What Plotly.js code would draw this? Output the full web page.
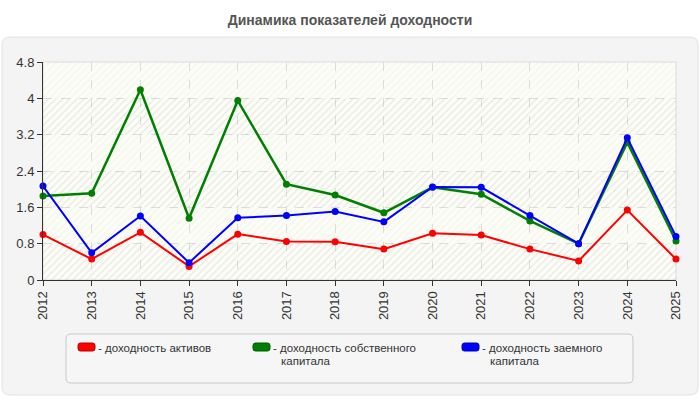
<!DOCTYPE html>
<html>
<head>
<meta charset="utf-8">
<script src="https://cdn.plot.ly/plotly-3.0.1.min.js"></script>
<style>
  html, body { margin: 0; padding: 0; background: #ffffff; }
  #chart { width: 700px; height: 400px; }
</style>
</head>
<body>
<div id="chart"></div>
<script>
// Годы и показатели доходности
const years = [2012, 2013, 2014, 2015, 2016, 2017, 2018, 2019, 2020, 2021, 2022, 2023, 2024, 2025];
const assetsReturn = [1.00, 0.46, 1.05, 0.30, 1.01, 0.85, 0.84, 0.68, 1.03, 0.99, 0.68, 0.42, 1.54, 0.46];
const equityReturn = [1.85, 1.91, 4.19, 1.36, 3.95, 2.11, 1.87, 1.48, 2.04, 1.89, 1.30, 0.80, 3.03, 0.86];
const debtReturn   = [2.07, 0.60, 1.41, 0.38, 1.37, 1.42, 1.51, 1.28, 2.05, 2.04, 1.42, 0.80, 3.13, 0.96];

// Подписи легенды построчно
const seriesNames = [
  ['доходность активов'],
  ['доходность собственного', 'капитала'],
  ['доходность заемного', 'капитала']
];
const seriesColors = ['#ff0000', '#008000', '#0000ff'];
const seriesBorders = ['#b30000', '#005a00', '#0000b3'];
const yTicks = [0, 0.8, 1.6, 2.4, 3.2, 4, 4.8];
const titleText = 'Динамика показателей доходности';

// Геометрия области построения в пикселях
const W = 700, H = 400;
const plotL = 43, plotR = 676, plotT = 62, plotB = 280;
const px = x => (x - plotL) / (plotR - plotL);
const py = y => (plotB - y) / (plotB - plotT);

// Скругленный прямоугольник в координатах paper
function roundRect(x0, y0, x1, y1, r) {
  const rx = r / (plotR - plotL), ry = r / (plotB - plotT);
  const L = px(x0), R = px(x1), T = py(y0), B = py(y1);
  return `M${L + rx},${T} L${R - rx},${T} Q${R},${T} ${R},${T - ry} L${R},${B + ry} Q${R},${B} ${R - rx},${B} ` +
         `L${L + rx},${B} Q${L},${B} ${L},${B + ry} L${L},${T - ry} Q${L},${T} ${L + rx},${T} Z`;
}

const traces = [];

// Полосы фона со штриховкой между линиями сетки
for (let i = 0; i < yTicks.length - 1; i++) {
  const dark = i % 2 === 0;
  const y0 = yTicks[i], y1 = yTicks[i + 1];
  const x0 = years[0], x1 = years[years.length - 1];
  traces.push({
    x: [x0, x1, x1, x0, x0],
    y: [y0, y0, y1, y1, y0],
    mode: 'none',
    fill: 'toself',
    fillcolor: dark ? 'rgba(120,120,110,0.07)' : 'rgba(0,0,0,0)',
    fillpattern: {
      shape: '/',
      size: 5,
      solidity: 0.25,
      fgcolor: dark ? 'rgba(150,150,150,0.2)' : 'rgba(200,200,180,0.16)',
      bgcolor: 'rgba(0,0,0,0)'
    },
    hoverinfo: 'skip',
    showlegend: false
  });
}

const series = [assetsReturn, equityReturn, debtReturn];
const widths = [2, 2.5, 2];
series.forEach((vals, i) => {
  traces.push({
    x: years,
    y: vals,
    name: seriesNames[i].join(' '),
    type: 'scatter',
    mode: 'lines+markers',
    line: { color: seriesColors[i], width: widths[i] },
    marker: { color: seriesColors[i], size: 7 },
    cliponaxis: false,
    showlegend: false
  });
});

const shapes = [
  // Серая подложка диаграммы
  {
    type: 'path', xref: 'paper', yref: 'paper', layer: 'below',
    path: roundRect(2, 37, 698, 395, 8),
    fillcolor: '#f4f4f4', line: { color: '#e2e2e2', width: 1 }
  },
  // Фон области построения
  {
    type: 'rect', xref: 'paper', yref: 'paper', layer: 'below',
    x0: 0, x1: 1, y0: 0, y1: 1,
    fillcolor: '#fcfdf6', line: { color: '#dcdcdc', width: 1 }
  },
  // Рамка легенды
  {
    type: 'path', xref: 'paper', yref: 'paper', layer: 'below',
    path: roundRect(66, 334, 633, 383, 5),
    fillcolor: '#f6f6f6', line: { color: '#c8c8c8', width: 1 }
  }
];

const legendFont = { family: 'Liberation Sans, Arial, sans-serif', size: 11.5, color: '#333333' };
const annotations = [];
const legendX = [78, 253, 462];
seriesNames.forEach((lines, i) => {
  const sx = legendX[i], sy = 343;
  shapes.push({
    type: 'path', xref: 'paper', yref: 'paper', layer: 'above',
    path: roundRect(sx, sy, sx + 17, sy + 8, 2.5),
    fillcolor: seriesColors[i], line: { color: seriesBorders[i], width: 1 }
  });
  lines.forEach((line, j) => {
    annotations.push({
      xref: 'paper', yref: 'paper',
      x: px(j === 0 ? sx + 18 : sx + 26), y: py(340 + j * 13),
      xanchor: 'left', yanchor: 'top', align: 'left',
      text: (j === 0 ? '- ' : '') + line,
      showarrow: false,
      font: legendFont
    });
  });
});

const layout = {
  width: W, height: H,
  paper_bgcolor: '#ffffff',
  plot_bgcolor: 'rgba(0,0,0,0)',
  margin: { l: plotL, r: W - plotR, t: plotT, b: H - plotB, pad: 0 },
  title: {
    text: '<b>' + titleText + '</b>',
    x: 0.5, xref: 'container', xanchor: 'center',
    y: 1 - 20 / H, yref: 'container', yanchor: 'middle',
    font: { family: 'Liberation Sans, Arial, sans-serif', size: 14, color: '#555555' }
  },
  font: { family: 'Liberation Sans, Arial, sans-serif', size: 13, color: '#333333' },
  xaxis: {
    range: [years[0], years[years.length - 1]],
    tickvals: years,
    ticktext: years.map(String),
    tickangle: -90,
    ticks: 'outside', ticklen: 5, tickcolor: '#333333',
    showline: true, linecolor: '#333333', linewidth: 1,
    showgrid: true, gridcolor: '#dddddd', griddash: 'dash', gridwidth: 1,
    zeroline: false, fixedrange: true,
    tickfont: { size: 13, color: '#333333' }
  },
  yaxis: {
    range: [yTicks[0], yTicks[yTicks.length - 1]],
    tickvals: yTicks,
    ticktext: yTicks.map(String),
    ticks: 'outside', ticklen: 5, tickcolor: '#333333',
    showline: true, linecolor: '#333333', linewidth: 1,
    showgrid: true, gridcolor: '#dddddd', griddash: 'dash', gridwidth: 1,
    zeroline: false, fixedrange: true,
    tickfont: { size: 13, color: '#333333' }
  },
  shapes: shapes,
  annotations: annotations,
  showlegend: false,
  hovermode: false
};

Plotly.newPlot('chart', traces, layout, { displayModeBar: false, staticPlot: true });
</script>
</body>
</html>
